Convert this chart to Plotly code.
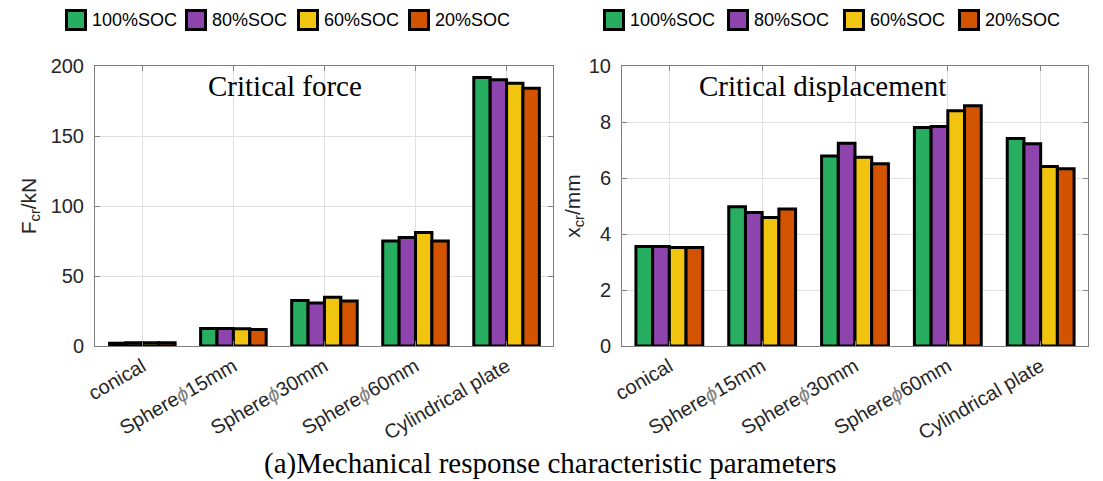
import plotly.graph_objects as go

# Indenter shapes (x categories); the diameter symbol is set in light italic
PHI = "<span style='color:#808080'><i>ϕ</i></span>"
categories = ["conical", f"Sphere{PHI}15mm", f"Sphere{PHI}30mm",
              f"Sphere{PHI}60mm", "Cylindrical plate"]

# State of charge series
soc_labels = ["100%SOC", "80%SOC", "60%SOC", "20%SOC"]

# Critical force F_cr (kN)
force_100 = [2.0, 12.5, 32.5, 75.0, 191.8]
force_80 = [2.3, 12.5, 30.7, 77.5, 190.1]
force_60 = [2.3, 12.3, 34.9, 81.0, 187.7]
force_20 = [2.3, 11.8, 32.1, 75.0, 184.1]

# Critical displacement x_cr (mm)
disp_100 = [3.55, 4.97, 6.79, 7.80, 7.41]
disp_80 = [3.55, 4.77, 7.24, 7.84, 7.22]
disp_60 = [3.52, 4.59, 6.74, 8.40, 6.41]
disp_20 = [3.52, 4.89, 6.51, 8.58, 6.33]

force_ticks = [0, 50, 100, 150, 200]
disp_ticks = [0, 2, 4, 6, 8, 10]

colors = ["#27AE60", "#8E44AD", "#F1C40F", "#D35400"]

W, H = 1103, 481


def px(x):
    return x / W


def py(y):
    return 1 - y / H


fig = go.Figure()

for series, name, color in zip([force_100, force_80, force_60, force_20], soc_labels, colors):
    fig.add_trace(go.Bar(x=categories, y=series, name=name, marker_color=color,
                         marker_line_color="black", marker_line_width=3,
                         xaxis="x", yaxis="y", showlegend=False))

for series, name, color in zip([disp_100, disp_80, disp_60, disp_20], soc_labels, colors):
    fig.add_trace(go.Bar(x=categories, y=series, name=name, marker_color=color,
                         marker_line_color="black", marker_line_width=3,
                         xaxis="x2", yaxis="y2", showlegend=False))

sans = "Arial, Liberation Sans"
tick_font = dict(family=sans, size=20, color="#262626")
axis_common = dict(showline=True, linecolor="#7f7f7f", linewidth=1, mirror="allticks",
                   ticks="inside", ticklen=5, tickcolor="#7f7f7f",
                   showgrid=True, gridcolor="#e0e0e0", gridwidth=1,
                   tickfont=tick_font, zeroline=False, automargin=False)

xdom1 = [px(95), px(553)]
xdom2 = [px(622), px(1088)]
ydom = [py(346), py(66)]

fig.update_layout(
    width=W, height=H,
    margin=dict(l=0, r=0, t=0, b=0),
    paper_bgcolor="white", plot_bgcolor="white",
    barmode="group", bargap=0.28, bargroupgap=0,
    xaxis=dict(domain=xdom1, anchor="y", range=[-0.52, 4.51], tickangle=-30,
               **axis_common),
    yaxis=dict(domain=ydom, anchor="x", range=[0, 200], tickvals=force_ticks,
               ticklabelstandoff=6,
               title=dict(text="F<sub>cr</sub>/kN", standoff=8,
                          font=dict(family=sans, size=21, color="#262626")),
               **axis_common),
    xaxis2=dict(domain=xdom2, anchor="y2", range=[-0.51, 4.51], tickangle=-30,
                **axis_common),
    yaxis2=dict(domain=ydom, anchor="x2", range=[0, 10], tickvals=disp_ticks,
                ticklabelstandoff=6,
                title=dict(text="x<sub>cr</sub>/mm", standoff=2,
                           font=dict(family=sans, size=21, color="#262626")),
                **axis_common),
)

serif = "Liberation Serif, Times New Roman"

# Panel titles and figure caption
fig.add_annotation(text="Critical force", x=px(285), y=py(86), xref="paper", yref="paper",
                   xanchor="center", yanchor="middle", showarrow=False,
                   font=dict(family=serif, size=29, color="black"))
fig.add_annotation(text="Critical displacement", x=px(822), y=py(86), xref="paper", yref="paper",
                   xanchor="center", yanchor="middle", showarrow=False,
                   font=dict(family=serif, size=29, color="black"))
fig.add_annotation(text="(a)Mechanical response characteristic parameters",
                   x=px(550), y=py(463), xref="paper", yref="paper",
                   xanchor="center", yanchor="middle", showarrow=False,
                   font=dict(family=serif, size=29, color="black"))

# Legend rows above each panel
legend_rows = [[65, 185, 297, 408], [603, 727, 843, 958]]
for row in legend_rows:
    for x0, name, color in zip(row, soc_labels, colors):
        fig.add_shape(type="rect", xref="paper", yref="paper",
                      x0=px(x0 + 1.5), x1=px(x0 + 20.5), y0=py(29.5), y1=py(10.5),
                      fillcolor=color, line=dict(color="black", width=3))
        fig.add_annotation(text=name, x=px(x0 + 25), y=py(20), xref="paper", yref="paper",
                           xanchor="left", yanchor="middle", showarrow=False,
                           font=dict(family=sans, size=18, color="black"))

fig.write_html("out.html")
